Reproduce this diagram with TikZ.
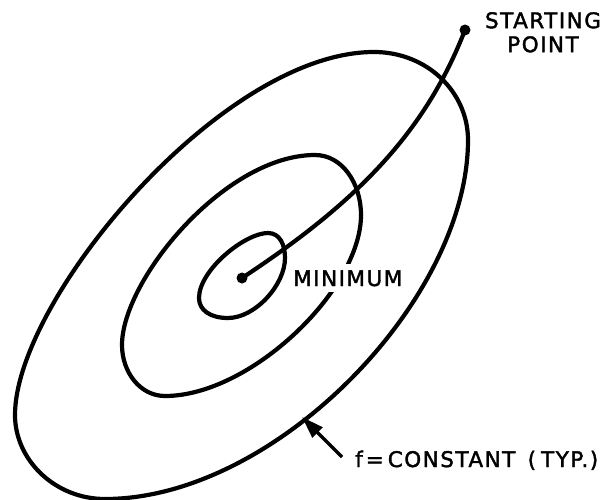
\documentclass[tikz,border=0pt]{standalone}
\usepackage{fontspec}
\setmainfont{DejaVu Sans}[LetterSpace=7.0, FakeBold=1.8]
\usetikzlibrary{arrows.meta}
\tikzset{
  contour/.style={line width=4.2pt, line join=round, line cap=round},
  lbl/.style={font=\fontsize{21.5}{24}\selectfont, inner sep=0pt},
  dot/.style={circle, fill=black, inner sep=0pt, minimum size=11pt},
  pointer/.style={line width=3.2pt, -{Triangle[length=22pt,width=14pt]}}
}
\begin{document}
\begin{tikzpicture}[x=1pt,y=-1pt]
\useasboundingbox (0,0) rectangle (610,500);
% outer contour
\draw[contour] (374,52) .. controls (427,52) and (468,92) .. (468,140)
  .. controls (468,300) and (275,499) .. (105,499)
  .. controls (55,499) and (15,460) .. (15,415)
  .. controls (15,300) and (222,52) .. cycle;
% middle contour
\draw[contour] (315,155) .. controls (342,155) and (361,183) .. (361,215)
  .. controls (361,290) and (250,396) .. (165,396)
  .. controls (140,396) and (122,372) .. (122,345)
  .. controls (122,280) and (225,155) .. cycle;
% inner contour
\draw[contour] (268,233) .. controls (280,233) and (285,245) .. (285,258)
  .. controls (285,285) and (255,318) .. (228,318)
  .. controls (210,318) and (199,310) .. (199,298)
  .. controls (199,270) and (245,233) .. cycle;
% label masking the middle contour
\node[lbl, anchor=base west, fill=white, inner xsep=3pt, inner ysep=6pt] (minlbl) at (290,286) {MINIMUM};
% points
\node[dot] (start) at (465,30) {};
\node[dot] (min) at (242,278) {};
% search path
\draw[contour] (start.center) .. controls (425,133) and (356,203) .. (min.center);
% labels
\node[lbl, anchor=north, align=center] (startlbl) at (543,12) {STARTING\\POINT};
\node[lbl, anchor=base west] (flbl) at (355,467) {f\hspace{3pt}=\hspace{4pt}CONSTANT\hspace{4pt} (\hspace{5pt}TYP.)};
% pointer
\coordinate (tail) at (342,457);
\coordinate (tip) at (302,417);
\draw[pointer] (tail) -- (tip);
\end{tikzpicture}
\end{document}
